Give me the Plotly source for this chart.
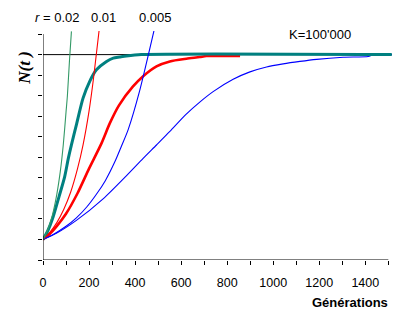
import plotly.graph_objects as go

# ---- data (N in individuals) ----
K = 100000
t_end = 1515

# exponential r = 0.02
exp02_t = [0, 20, 40, 60, 75, 88, 100, 106, 115, 123.5]
exp02_N = [10000, 14500, 21500, 32000, 43000, 56000, 72000, 80000, 97000, 111300]
# logistic r = 0.02
log02_t = [0, 20, 43.5, 70, 94, 110, 123.5, 145, 174, 203, 232, 276, 305, 333, 362, 427, 1515]
log02_N = [10000, 14000, 20800, 31000, 40500, 49500, 56100, 65800, 78800, 87000, 92600, 96700,
           98300, 98800, 99300, 100000, 100000]
# exponential r = 0.01
exp01_t = [0, 30, 60, 90, 120, 150, 174, 200, 220, 243.5]
exp01_N = [10000, 13500, 18200, 24600, 33000, 44500, 56100, 72500, 89000, 111600]
# logistic r = 0.01
log01_t = [0, 30, 60, 100, 150, 200, 254, 290, 330, 391, 435, 493, 551, 623, 681, 710, 856]
log01_N = [10000, 12800, 16500, 22500, 32500, 44500, 56800, 66500, 75300, 84500, 89500, 94300,
           96700, 98000, 98800, 99300, 99300]
# exponential r = 0.005
exp005_t = [0, 50, 100, 145, 190, 232, 270, 312, 341, 370, 420, 482]
exp005_N = [10000, 12800, 16400, 20500, 25800, 32000, 38500, 47800, 55500, 63500, 82500, 111600]
# logistic r = 0.005
log005_t = [0, 58, 145, 261, 362, 435, 493, 551, 620, 681, 739, 826, 899, 971, 1043, 1116,
            1189, 1304, 1413, 1432, 1515]
log005_N = [10000, 13000, 19300, 29800, 41000, 49500, 56000, 62600, 70800, 76900, 82000, 88000,
            91600, 94000, 95500, 96700, 97700, 98700, 99100, 99900, 100000]

x_ticks = list(range(0, 1501, 100))
x_ticktext = [str(v) if v % 200 == 0 else "" for v in x_ticks]
y_ticks = list(range(0, 110001, 10000))

# ---- layout geometry (pixels) ----
W, H = 412, 322
L, R, T, B = 43.3, 392.0, 30.9, 260.0


def fx(px):
    return (px - L) / (R - L)


def fy(py):
    return (B - py) / (B - T)


def curve(t, n, color, width):
    return go.Scatter(x=t, y=n, mode="lines", showlegend=False,
                      line=dict(color=color, width=width, shape="spline", smoothing=0.7))


fig = go.Figure()

fig.add_trace(go.Scatter(x=[0, t_end], y=[K, K], mode="lines",
                         line=dict(color="black", width=1), showlegend=False))
fig.add_trace(curve(log005_t, log005_N, "#0000ff", 1.1))
fig.add_trace(curve(log01_t, log01_N, "#ff0000", 2.6))
fig.add_trace(curve(log02_t, log02_N, "#008080", 3))
fig.add_trace(curve(exp005_t, exp005_N, "#0000ff", 1.1))
fig.add_trace(curve(exp01_t, exp01_N, "#ff0000", 1.1))
fig.add_trace(curve(exp02_t, exp02_N, "#339966", 1.1))

fig.update_layout(
    width=W, height=H, autosize=False,
    margin=dict(l=L, r=W - R, t=T, b=H - B, pad=0),
    paper_bgcolor="white", plot_bgcolor="white",
    font=dict(family="Liberation Sans, Arial, sans-serif", size=12.5, color="black"),
    xaxis=dict(range=[0, 1516], tickvals=x_ticks, ticktext=x_ticktext, ticks="outside",
               ticklen=4, tickwidth=1, tickcolor="black", showgrid=False, zeroline=False,
               showline=False, ticklabelstandoff=7,
               tickfont=dict(family="Liberation Sans, Arial, sans-serif", size=12.5)),
    yaxis=dict(range=[0, 111500], tickvals=y_ticks, ticks="outside", ticklen=4, tickwidth=1,
               tickcolor="black", showticklabels=False, showgrid=False, zeroline=False,
               showline=False),
    shapes=[
        dict(type="line", xref="x", yref="y", x0=0, x1=1500, y0=0, y1=0,
             line=dict(color="black", width=1)),
        dict(type="line", xref="x", yref="y", x0=0, x1=0, y0=0, y1=110000,
             line=dict(color="black", width=1)),
    ],
)

ann_font = dict(family="Liberation Sans, Arial, sans-serif", size=13, color="black")
fig.add_annotation(text="<i>r</i> = 0.02", xref="paper", yref="paper", x=fx(33), y=fy(17.5),
                   xanchor="left", yanchor="middle", showarrow=False, font=ann_font)
fig.add_annotation(text="0.01", xref="paper", yref="paper", x=fx(103.5), y=fy(17.5),
                   xanchor="center", yanchor="middle", showarrow=False, font=ann_font)
fig.add_annotation(text="0.005", xref="paper", yref="paper", x=fx(155.5), y=fy(17.5),
                   xanchor="center", yanchor="middle", showarrow=False, font=ann_font)
fig.add_annotation(text="K=100'000", xref="paper", yref="paper", x=fx(320), y=fy(34.7),
                   xanchor="center", yanchor="middle", showarrow=False, font=ann_font)
fig.add_annotation(text="Générations", xref="paper", yref="paper", x=fx(390.5), y=fy(303),
                   xanchor="right", yanchor="middle", showarrow=False,
                   font=dict(family="Liberation Sans, Arial, sans-serif", size=13,
                             color="black", weight="bold"))
fig.add_annotation(text="N(t )", xref="paper", yref="paper", x=fx(24), y=fy(68),
                   xanchor="center", yanchor="middle", showarrow=False, textangle=-90,
                   font=dict(family="Liberation Serif, Times New Roman, serif", size=17,
                             color="black", weight="bold", style="italic"))

fig.write_html("out.html")
